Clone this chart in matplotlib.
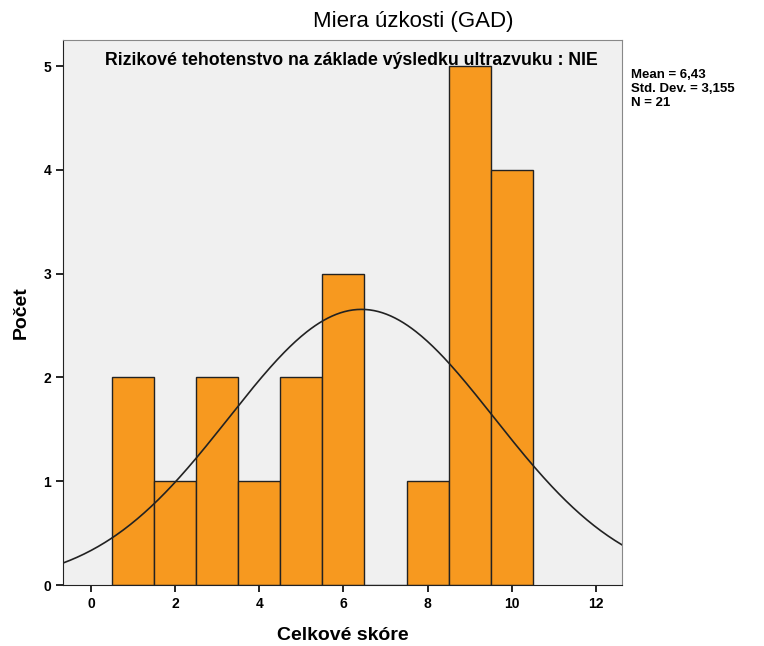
import numpy as np
import matplotlib.pyplot as plt

# histogram data (bin centres and counts)
scores = [1, 2, 3, 4, 5, 6, 7, 8, 9, 10]
counts = [2, 1, 2, 1, 2, 3, 0, 1, 5, 4]
mean_val = 6.43
std_val = 3.155
n_val = 21

plt.rcParams['font.family'] = ['Liberation Sans', 'DejaVu Sans']

fig = plt.figure(figsize=(7.64, 6.46), dpi=100)
ax = fig.add_axes([0.0825, 0.0944, 0.7315, 0.8436])
ax.set_facecolor('#f0f0f0')

ax.bar(scores, counts, width=1.0, color='#f7991f', edgecolor='#222222', linewidth=1.0, zorder=2)

# fitted normal curve
xs = np.linspace(-0.665, 12.62, 400)
ys = n_val * 1.0 / (std_val * np.sqrt(2 * np.pi)) * np.exp(-0.5 * ((xs - mean_val) / std_val) ** 2)
ax.plot(xs, ys, color='#222222', linewidth=1.2, zorder=3)

ax.set_xlim(-0.665, 12.62)
ax.set_ylim(0, 5.25)
ax.set_xticks([0, 2, 4, 6, 8, 10, 12])
ax.set_yticks([0, 1, 2, 3, 4, 5])
ax.tick_params(axis='both', direction='out', length=5, width=1.2, labelsize=10)
for lab in ax.get_xticklabels() + ax.get_yticklabels():
    lab.set_fontweight('bold')
for s in ax.spines.values():
    s.set_color('#888888')
ax.spines['left'].set_color('#222222')
ax.spines['bottom'].set_color('#222222')

ax.set_xlabel('Celkové skóre', fontsize=14, fontweight='bold', labelpad=12)
ax.set_ylabel('Počet', fontsize=14, fontweight='bold', labelpad=10)
fig.text(413 / 764, 1 - 21 / 646, 'Miera úzkosti (GAD)', fontsize=16, ha='center', va='center')
ax.text(0.5152, 0.963, 'Rizikové tehotenstvo na základe výsledku ultrazvuku : NIE',
        transform=ax.transAxes, ha='center', va='center', fontsize=12.8, fontweight='bold')

fig.text(0.826, 0.893,
         'Mean = %s\nStd. Dev. = %s\nN = %d' % (str(mean_val).replace('.', ','),
                                                str(std_val).replace('.', ','), n_val),
         ha='left', va='top', fontsize=9.5, fontweight='bold', linespacing=1.2)

fig.savefig('out.png', dpi=100)
